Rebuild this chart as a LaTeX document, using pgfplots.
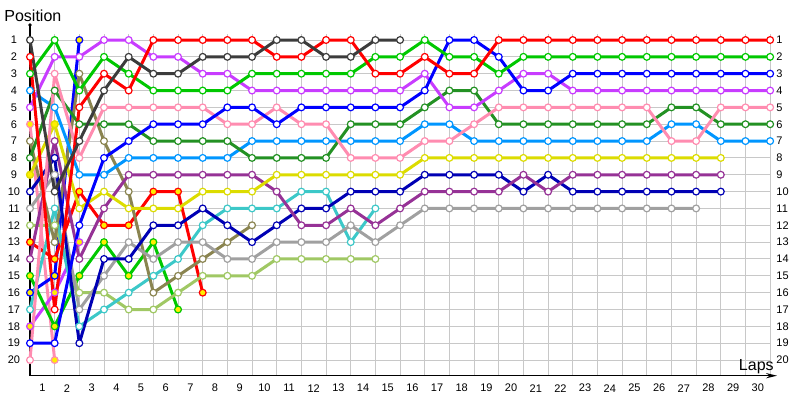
\documentclass[border=0pt]{standalone}
\usepackage{pgfplots}
\usepackage{pgfplotstable}
\pgfplotsset{compat=1.18}
\usetikzlibrary{arrows.meta}
\usepackage{fontspec}
\setmainfont{Liberation Sans}

\definecolor{cdg}{HTML}{3C3C3C}
\definecolor{cred}{HTML}{FF0000}
\definecolor{cgrn}{HTML}{00C800}
\definecolor{cblu}{HTML}{0000FF}
\definecolor{cvio}{HTML}{C83CFF}
\definecolor{cpnk}{HTML}{FF8CB0}
\definecolor{cfg}{HTML}{239123}
\definecolor{clb}{HTML}{0096FF}
\definecolor{cylw}{HTML}{DCDC00}
\definecolor{cpur}{HTML}{963296}
\definecolor{cnav}{HTML}{0000B4}
\definecolor{cgry}{HTML}{A0A0A0}
\definecolor{colv}{HTML}{8A8450}
\definecolor{ccyn}{HTML}{3CC8C8}
\definecolor{clgr}{HTML}{A0C864}
\definecolor{cfillY}{HTML}{FFEE00}
\definecolor{cgrid}{HTML}{C8C8C8}

\pgfplotstableread{
lap dg red grn blu vio pnk fg lb ylw pur nav gry olv cyn lgr rdb grb vib blb pkb
0 1 2 3 19 5 20 8 4 9 14 10 11 7 17 12 13 15 18 16 6
1 10 17 1 19 2 3 4 5 6 7 8 9 13 11 12 14 18 16 15 20
2 7 5 4 12 2 8 6 9 11 14 19 17 3 18 16 10 15 13 1 nan
3 4 3 2 8 1 5 6 9 10 11 14 15 7 17 16 12 13 nan nan nan
4 2 4 3 7 1 5 6 8 11 9 14 13 10 16 17 12 15 nan nan nan
5 3 1 4 6 2 5 7 8 11 9 12 14 16 15 17 10 13 nan nan nan
6 3 1 4 6 2 5 7 8 11 9 12 13 15 14 16 10 17 nan nan nan
7 2 1 4 6 3 5 7 8 10 9 11 13 14 12 15 16 nan nan nan nan
8 2 1 4 5 3 6 7 8 10 9 12 14 13 11 15 nan nan nan nan nan
9 2 1 3 5 4 6 8 7 10 9 13 14 12 11 15 nan nan nan nan nan
10 1 2 3 6 4 5 8 7 9 10 12 13 nan 11 14 nan nan nan nan nan
11 1 2 3 5 4 6 8 7 9 12 11 13 nan 10 14 nan nan nan nan nan
12 2 1 3 5 4 6 8 7 9 12 11 13 nan 10 14 nan nan nan nan nan
13 2 1 3 5 4 8 6 7 9 11 10 12 nan 13 14 nan nan nan nan nan
14 1 3 2 5 4 8 6 7 9 12 10 13 nan 11 14 nan nan nan nan nan
15 1 3 2 5 4 8 6 7 9 11 10 12 nan nan nan nan nan nan nan nan
16 nan 2 1 4 3 7 5 6 8 10 9 11 nan nan nan nan nan nan nan nan
17 nan 3 2 1 5 7 4 6 8 10 9 11 nan nan nan nan nan nan nan nan
18 nan 3 2 1 5 6 4 7 8 10 9 11 nan nan nan nan nan nan nan nan
19 nan 1 3 2 4 5 6 7 8 10 9 11 nan nan nan nan nan nan nan nan
20 nan 1 2 4 3 5 6 7 8 9 10 11 nan nan nan nan nan nan nan nan
21 nan 1 2 4 3 5 6 7 8 10 9 11 nan nan nan nan nan nan nan nan
22 nan 1 2 3 4 5 6 7 8 9 10 11 nan nan nan nan nan nan nan nan
23 nan 1 2 3 4 5 6 7 8 9 10 11 nan nan nan nan nan nan nan nan
24 nan 1 2 3 4 5 6 7 8 9 10 11 nan nan nan nan nan nan nan nan
25 nan 1 2 3 4 5 6 7 8 9 10 11 nan nan nan nan nan nan nan nan
26 nan 1 2 3 4 7 5 6 8 9 10 11 nan nan nan nan nan nan nan nan
27 nan 1 2 3 4 7 5 6 8 9 10 11 nan nan nan nan nan nan nan nan
28 nan 1 2 3 4 5 6 7 8 9 10 nan nan nan nan nan nan nan nan nan
29 nan 1 2 3 4 5 6 7 nan nan nan nan nan nan nan nan nan nan nan nan
30 nan 1 2 3 4 5 6 7 nan nan nan nan nan nan nan nan nan nan nan nan
}\laps

\newcommand{\lineof}[2]{\addplot[color=#2, line width=1.5pt, line join=round, no markers, unbounded coords=discard] table[x=lap,y=#1]{\laps};}
\newcommand{\marksof}[3]{\addplot[only marks, mark=*, mark size=1.7pt, unbounded coords=discard, mark options={fill=#3, draw=#2, line width=0.6pt}] table[x=lap,y=#1]{\laps};}

\begin{document}
\begin{tikzpicture}
\begin{axis}[
  x=12.333pt, y=8.42pt, y dir=reverse,
  xmin=0, xmax=30.8, ymin=0.1, ymax=20.93,
  hide axis, clip=false,
]
% grid
\pgfplotsinvokeforeach{1,...,20}{\draw[cgrid, line width=0.5pt] (axis cs:0,#1) -- (axis cs:30,#1);}
\pgfplotsinvokeforeach{1,...,30}{\draw[cgrid, line width=0.5pt] (axis cs:#1,0.65) -- (axis cs:#1,20.93);}
% axis lines
\draw[black, line width=0.6pt] (axis cs:0,20.93) -- (axis cs:0,0.11);
\fill[black] (axis cs:0,0.11) circle (0.9pt);
\draw[black, line width=0.6pt, -{Stealth[length=5.5pt,width=2.6pt]}] (axis cs:0,20.93) -- (axis cs:30.28,20.93);
% tick labels
\pgfplotsinvokeforeach{1,...,20}{
  \node[font=\fontsize{5.5}{6}\selectfont, anchor=center, inner sep=0pt] at (axis cs:-0.65,#1) {#1};
  \node[font=\fontsize{5.5}{6}\selectfont, anchor=west, inner sep=0pt] at (axis cs:30.24,#1) {#1};
}
\pgfplotsinvokeforeach{1,...,30}{
  \node[font=\fontsize{5.5}{6}\selectfont, anchor=center, inner sep=0pt, xshift=-6.17pt] at (axis cs:#1,21.67) {#1};
}
\node[font=\fontsize{8}{9}\selectfont, anchor=base west, inner sep=0pt] at (axis cs:-1.054,-0.128) {Position};
\node[font=\fontsize{8}{9}\selectfont, anchor=base east, inner sep=0pt] at (axis cs:30.16,20.6) {Laps};

% lines
\lineof{pkb}{cpnk}
\lineof{blb}{cblu}
\lineof{vib}{cvio}
\lineof{grb}{cgrn}
\lineof{rdb}{cred}
\lineof{lgr}{clgr}
\lineof{cyn}{ccyn}
\lineof{olv}{colv}
\lineof{gry}{cgry}
\lineof{nav}{cnav}
\lineof{pur}{cpur}
\lineof{ylw}{cylw}
\lineof{lb}{clb}
\lineof{fg}{cfg}
\lineof{pnk}{cpnk}
\lineof{vio}{cvio}
\lineof{blu}{cblu}
\lineof{grn}{cgrn}
\lineof{red}{cred}
\lineof{dg}{cdg}
% markers
\marksof{pkb}{cpnk}{cfillY}
\marksof{blb}{cblu}{cfillY}
\marksof{vib}{cvio}{cfillY}
\marksof{grb}{cgrn}{cfillY}
\marksof{rdb}{cred}{cfillY}
\marksof{lgr}{clgr}{white}
\marksof{cyn}{ccyn}{white}
\marksof{olv}{colv}{white}
\marksof{gry}{cgry}{white}
\marksof{nav}{cnav}{white}
\marksof{pur}{cpur}{white}
\marksof{ylw}{cylw}{white}
\addplot[only marks, mark=*, mark size=1.7pt, mark options={fill=cfillY, draw=cylw, line width=0.6pt}] coordinates {(0,9) (1,6)};
\marksof{lb}{clb}{white}
\marksof{fg}{cfg}{white}
\marksof{pnk}{cpnk}{white}
\marksof{vio}{cvio}{white}
\marksof{blu}{cblu}{white}
\marksof{grn}{cgrn}{white}
\marksof{red}{cred}{white}
\marksof{dg}{cdg}{white}

\coordinate (bbA) at (axis cs:-1.216,-1.375);
\coordinate (bbB) at (axis cs:31.21,22.38);
\end{axis}
\pgfresetboundingbox
\path[use as bounding box] (bbA) rectangle (bbB);
\end{tikzpicture}
\end{document}
